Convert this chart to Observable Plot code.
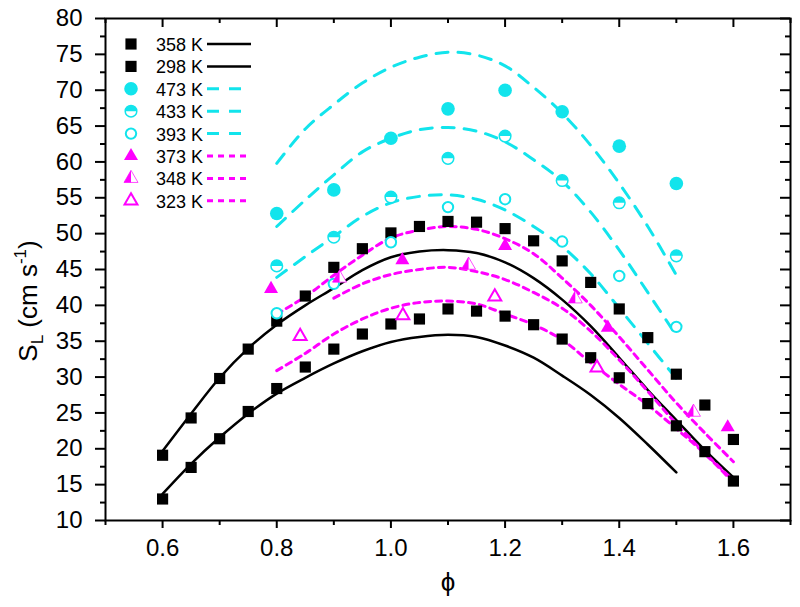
<!DOCTYPE html>
<html>
<head>
<meta charset="utf-8">
<script src="https://cdn.jsdelivr.net/npm/d3@7"></script>
<script src="https://cdn.jsdelivr.net/npm/@observablehq/plot@0.6"></script>
<style>
  html,body{margin:0;padding:0;background:#fff;}
  #chart svg{display:block;}
</style>
</head>
<body>
<div id="chart"></div>
<script>
// ================= DATA =================
const seriesNames = ["358 K","298 K","473 K","433 K","393 K","373 K","348 K","323 K"];

// measured points
const phi358 = [0.6,0.65,0.7,0.75,0.8,0.85,0.9,0.95,1.0,1.05,1.1,1.15,1.2,1.25,1.3,1.35,1.4,1.45,1.5,1.55,1.6];
const sl358  = [19.1,24.3,29.8,33.9,37.8,41.3,45.3,47.9,50.1,51.0,51.7,51.6,50.7,49.0,46.2,43.2,39.5,35.5,30.4,26.1,21.3];
const phi298 = [0.6,0.65,0.7,0.75,0.8,0.85,0.9,0.95,1.0,1.05,1.1,1.15,1.2,1.25,1.3,1.35,1.4,1.45,1.5,1.55,1.6];
const sl298  = [13.0,17.4,21.4,25.2,28.4,31.4,33.9,36.0,37.4,38.1,39.5,39.2,38.5,37.3,35.3,32.7,29.9,26.3,23.2,19.6,15.5];
const phiHot = [0.8,0.9,1.0,1.1,1.2,1.3,1.4,1.5];
const sl473  = [52.8,56.1,63.3,67.4,70.0,67.0,62.2,57.0];
const sl433  = [45.5,49.5,55.1,60.5,63.6,57.4,54.3,46.9];
const sl393  = [38.9,43.0,48.8,53.7,54.8,48.9,44.1,37.0];
const phi373 = [0.79,1.02,1.2,1.38,1.59];
const sl373  = [42.3,46.3,48.3,36.9,23.0];
const phi348 = [0.91,1.136,1.323,1.53];
const sl348  = [43.8,45.6,40.9,25.1];
const phi323 = [0.841,1.021,1.182,1.361];
const sl323  = [35.7,38.6,41.2,31.3];

// model curves
const fitPhi358 = [0.6,0.65,0.7,0.75,0.8,0.85,0.9,0.95,1.0,1.05,1.1,1.15,1.2,1.25,1.3,1.35,1.4,1.45,1.5,1.55,1.6];
const fit358    = [19.7,24.9,29.9,34.0,37.3,40.0,42.4,44.9,46.7,47.5,47.7,47.3,46.0,43.8,40.8,37.1,32.7,28.2,24.0,19.8,16.0];
const fitPhi298 = [0.6,0.65,0.7,0.75,0.8,0.85,0.9,0.95,1.0,1.05,1.1,1.15,1.2,1.25,1.3,1.35,1.4,1.45,1.5];
const fit298    = [13.7,17.9,21.6,24.9,27.7,29.9,31.9,33.6,34.9,35.6,35.9,35.6,34.4,32.7,30.2,27.5,24.3,20.6,16.7];
const fitPhiHot = [0.8,0.85,0.9,0.95,1.0,1.05,1.1,1.15,1.2,1.25,1.3,1.35,1.4,1.45,1.5];
const fit473    = [59.8,64.6,68.0,71.0,73.2,74.6,75.3,74.9,73.4,70.4,66.8,62.3,57.0,51.0,44.2];
const fit433    = [51.0,54.7,58.2,61.4,63.3,64.5,64.8,64.3,62.8,60.3,57.3,53.0,47.7,41.8,35.8];
const fit393    = [43.9,46.8,49.6,52.4,54.3,55.2,55.4,54.8,53.3,51.0,48.2,44.4,39.6,34.7,29.8];
const fitPhi373 = [0.8,0.85,0.9,0.95,1.0,1.05,1.1,1.15,1.2,1.25,1.3,1.35,1.4,1.45,1.5,1.55,1.6];
const fit373    = [38.8,41.2,44.2,47.0,49.4,50.5,51.0,50.6,49.3,47.2,43.8,40.0,35.6,31.0,26.4,22.2,18.2];
const fitPhi348 = [0.9,0.95,1.0,1.05,1.1,1.15,1.2,1.25,1.3,1.35,1.4,1.45,1.5,1.55,1.6];
const fit348    = [41.0,43.0,44.3,45.0,45.3,44.7,43.6,41.8,39.6,36.4,32.4,28.0,23.5,19.4,15.6];
const fitPhi323 = [0.8,0.85,0.9,0.95,1.0,1.05,1.1,1.15,1.2,1.25,1.3,1.35,1.4,1.45,1.5,1.55,1.6];
const fit323    = [30.9,33.3,36.0,38.1,39.6,40.4,40.6,40.2,38.8,37.3,35.2,32.0,29.0,26.1,22.8,19.3,15.3];

// ticks
const xTicks = [0.6,0.8,1.0,1.2,1.4,1.6];
const xMinorTicks = [0.5,0.7,0.9,1.1,1.3,1.5,1.7];
const yTicks = [10,15,20,25,30,35,40,45,50,55,60,65,70,75,80];
const yMinorTicks = [12.5,17.5,22.5,27.5,32.5,37.5,42.5,47.5,52.5,57.5,62.5,67.5,72.5,77.5];

// ================= STYLE / LAYOUT =================
const CYAN = "#12e4ec", MAG = "#ff00ff";
const W = 800, H = 607, mL = 105, mR = 10, mT = 18, mB = 87;
const plotW = W - mL - mR, plotH = H - mT - mB;
const CYAN_DASH = "12,10", MAG_DASH = "6,5";

const rows = (xs, ys) => xs.map((x, i) => ({phi: x, sl: ys[i]}));

const halfTop = {draw(ctx, size) {
  const r = Math.sqrt(size / Math.PI);
  ctx.moveTo(r, 0); ctx.arc(0, 0, r, 0, Math.PI, true); ctx.closePath();
}};
const halfLeftTri = {draw(ctx, size) {
  const y = -Math.sqrt(size / (3 * Math.sqrt(3)));
  ctx.moveTo(0, 2 * y); ctx.lineTo(Math.sqrt(3) * y, -y); ctx.lineTo(0, -y); ctx.closePath();
}};

const R_SQ = 6.3, R_CIRC = 6.8, R_HALF = 5.8, R_OPEN = 5.2, R_TRI = 5.2;

const fitLine = (xs, ys, stroke, dash, sw) =>
  Plot.line(rows(xs, ys), {x: "phi", y: "sl", stroke, strokeWidth: sw, strokeDasharray: dash, curve: "catmull-rom"});

const plot = Plot.plot({
  width: W, height: H,
  marginLeft: mL, marginRight: mR, marginTop: mT, marginBottom: mB,
  x: {domain: [0.5, 1.7]},
  y: {domain: [10, 80]},
  style: {fontFamily: "'Liberation Sans', Arial, sans-serif", fontSize: "24px", color: "black", background: "white"},
  marks: [
    // model curves
    fitLine(fitPhi358, fit358, "black", null, 2.5),
    fitLine(fitPhi298, fit298, "black", null, 2.5),
    fitLine(fitPhiHot, fit473, CYAN, CYAN_DASH, 3),
    fitLine(fitPhiHot, fit433, CYAN, CYAN_DASH, 3),
    fitLine(fitPhiHot, fit393, CYAN, CYAN_DASH, 3),
    fitLine(fitPhi373, fit373, MAG, MAG_DASH, 3),
    fitLine(fitPhi348, fit348, MAG, MAG_DASH, 3),
    fitLine(fitPhi323, fit323, MAG, MAG_DASH, 3),
    // points
    Plot.dot(rows(phi358, sl358), {x: "phi", y: "sl", symbol: "square", fill: "black", r: R_SQ}),
    Plot.dot(rows(phi298, sl298), {x: "phi", y: "sl", symbol: "square", fill: "black", r: R_SQ}),
    Plot.dot(rows(phiHot, sl473), {x: "phi", y: "sl", symbol: "circle", fill: CYAN, r: R_CIRC}),
    Plot.dot(rows(phiHot, sl433), {x: "phi", y: "sl", symbol: "circle", fill: "white", stroke: CYAN, strokeWidth: 1.5, r: R_HALF}),
    Plot.dot(rows(phiHot, sl433), {x: "phi", y: "sl", symbol: halfTop, fill: CYAN, r: R_HALF}),
    Plot.dot(rows(phiHot, sl393), {x: "phi", y: "sl", symbol: "circle", fill: "white", stroke: CYAN, strokeWidth: 2, r: R_OPEN}),
    Plot.dot(rows(phi373, sl373), {x: "phi", y: "sl", symbol: "triangle", fill: MAG, r: R_TRI}),
    Plot.dot(rows(phi348, sl348), {x: "phi", y: "sl", symbol: "triangle", fill: "white", stroke: MAG, strokeWidth: 0.7, r: R_TRI}),
    Plot.dot(rows(phi348, sl348), {x: "phi", y: "sl", symbol: halfLeftTri, fill: MAG, r: R_TRI}),
    Plot.dot(rows(phi323, sl323), {x: "phi", y: "sl", symbol: "triangle", fill: "white", stroke: MAG, strokeWidth: 2, r: R_TRI - 0.4}),
    // frame & axes
    Plot.frame({stroke: "black", strokeWidth: 2}),
    Plot.axisX(xTicks, {anchor: "bottom", tickSize: 8, tickPadding: 10, strokeWidth: 2, tickFormat: d => d.toFixed(1), label: null}),
    Plot.axisX(xMinorTicks, {anchor: "bottom", tickSize: 5, strokeWidth: 2, tickFormat: () => "", label: null}),
    Plot.axisY(yTicks, {anchor: "left", tickSize: 10, tickPadding: 13, strokeWidth: 2, tickFormat: d => String(d), label: null}),
    Plot.axisY(yMinorTicks, {anchor: "left", tickSize: 5, strokeWidth: 2, tickFormat: () => "", label: null}),
    Plot.ruleX(xTicks, {x: d => d, insetBottom: plotH - 9, strokeWidth: 2}),
    Plot.ruleX(xMinorTicks, {x: d => d, insetBottom: plotH - 5, strokeWidth: 2}),
    Plot.ruleY(yTicks, {y: d => d, insetLeft: plotW - 10, strokeWidth: 2}),
    Plot.ruleY(yMinorTicks, {y: d => d, insetLeft: plotW - 5, strokeWidth: 2})
  ]
});

document.getElementById("chart").appendChild(plot);

// ================= TITLES & LEGEND =================
const svg = d3.select(plot);
const FONT = "'Liberation Sans', Arial, sans-serif";

const yt = svg.append("text")
  .attr("transform", "translate(37,301) rotate(-90)")
  .attr("text-anchor", "middle").attr("font-family", FONT).attr("font-size", 26).attr("fill", "black");
yt.append("tspan").text("S");
yt.append("tspan").attr("font-size", 17).attr("dy", 6).text("L");
yt.append("tspan").attr("dy", -6).text(" (cm s");
yt.append("tspan").attr("font-size", 17).attr("dy", -11).text("-1");
yt.append("tspan").attr("dy", 11).text(")");

svg.append("text").attr("x", 448).attr("y", 591).attr("text-anchor", "middle")
  .attr("font-family", FONT).attr("font-size", 26).attr("fill", "black").text("ϕ");

const legendStyle = [
  {sym: d3.symbolSquare, r: R_SQ, fill: "black", stroke: "none", sw: 0, half: null, color: "black", dash: null},
  {sym: d3.symbolSquare, r: R_SQ, fill: "black", stroke: "none", sw: 0, half: null, color: "black", dash: null},
  {sym: d3.symbolCircle, r: R_CIRC, fill: CYAN, stroke: "none", sw: 0, half: null, color: CYAN, dash: CYAN_DASH},
  {sym: d3.symbolCircle, r: R_HALF, fill: "white", stroke: CYAN, sw: 1.5, half: halfTop, color: CYAN, dash: CYAN_DASH},
  {sym: d3.symbolCircle, r: R_OPEN, fill: "white", stroke: CYAN, sw: 2, half: null, color: CYAN, dash: CYAN_DASH},
  {sym: d3.symbolTriangle, r: R_TRI, fill: MAG, stroke: "none", sw: 0, half: null, color: MAG, dash: MAG_DASH},
  {sym: d3.symbolTriangle, r: R_TRI, fill: "white", stroke: MAG, sw: 0.7, half: halfLeftTri, color: MAG, dash: MAG_DASH},
  {sym: d3.symbolTriangle, r: R_TRI - 0.4, fill: "white", stroke: MAG, sw: 2, half: null, color: MAG, dash: MAG_DASH}
];
const lg = svg.append("g");
seriesNames.forEach((name, i) => {
  const s = legendStyle[i];
  const y = 44 + i * 22.4;
  const size = Math.PI * s.r * s.r;
  lg.append("path").attr("transform", `translate(131,${y})`)
    .attr("d", d3.symbol(s.sym, size)()).attr("fill", s.fill).attr("stroke", s.stroke).attr("stroke-width", s.sw);
  if (s.half) lg.append("path").attr("transform", `translate(131,${y})`)
    .attr("d", d3.symbol(s.half, size)()).attr("fill", s.color);
  lg.append("text").attr("x", 156).attr("y", y + 7).attr("text-anchor", "start")
    .attr("font-family", FONT).attr("font-size", 18).attr("fill", "black").text(name);
  lg.append("line").attr("x1", 207).attr("x2", 251).attr("y1", y).attr("y2", y)
    .attr("stroke", s.color).attr("stroke-width", s.color === "black" ? 2.5 : 3)
    .attr("stroke-dasharray", s.dash);
});
</script>
</body>
</html>
